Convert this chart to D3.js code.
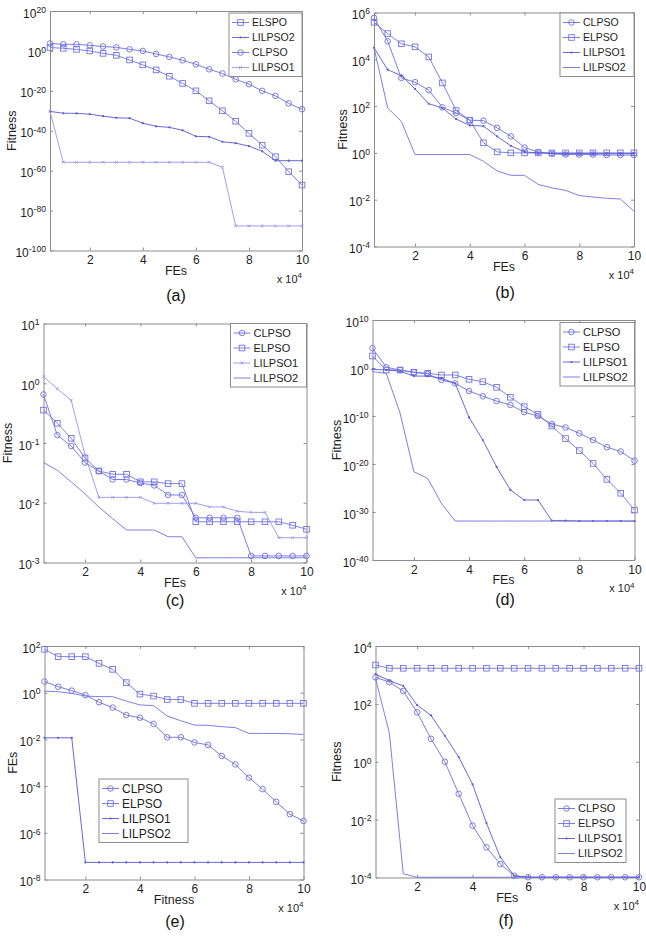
<!DOCTYPE html>
<html><head><meta charset="utf-8">
<script src="https://cdn.jsdelivr.net/npm/d3@7"></script>
<style>
body{margin:0;background:#fff;}
svg text{font-family:"Liberation Sans",Arial,Helvetica,sans-serif;}
</style></head><body>
<svg id="chart" width="646" height="939"></svg>
<script>
// ---------------- DATA ----------------
const fes = [5000,10000,15000,20000,25000,30000,35000,40000,45000,50000,55000,60000,65000,70000,75000,80000,85000,90000,95000,100000];
const xTicks = [20000,40000,60000,80000,100000];

// (a)
const aYTicks = [1e-100,1e-80,1e-60,1e-40,1e-20,1,1e20];
const aELSPO   = [50,20,6,1,6e-2,6e-3,3e-5,1e-7,3e-10,2e-13,5e-17,1e-20,1e-25,1e-30,6e-36,5e-42,6e-48,1e-53,3e-61,6e-68];
const aLILPSO2 = [5e-31,6e-32,5e-32,2e-32,2e-33,3e-34,2e-34,6e-37,1.6e-38,5e-39,1.6e-40,1.6e-43,1e-43,3e-46,6e-47,2e-48,5e-51,1e-55,1e-55,1e-55];
const aCLPSO   = [5e3,2e3,2e3,6e2,1.6e2,6e1,6,1,3e-2,1e-3,2e-5,2e-7,6e-10,5e-12,6e-15,2e-17,1e-20,3e-23,5e-27,6e-30];
const aLILPSO1 = [5e-31,1.6e-56,1.6e-56,1.6e-56,1.6e-56,1.6e-56,1.6e-56,1.6e-56,1.6e-56,1.6e-56,1.6e-56,1.6e-56,1.6e-56,5e-59,2e-88,2e-88,2e-88,2e-88,2e-88,2e-88];

// (b)
const bYTicks = [1e-4,1e-2,1,1e2,1e4,1e6];
const bCLPSO   = [5.9e5,5.9e4,1.6e3,1.05e3,4.8e2,89,51,25,24,11.7,5.1,1.7,1.1,0.91,0.85,0.85,0.85,0.81,0.81,0.81];
const bELPSO   = [3.8e5,1.26e5,4.6e4,3.4e4,1.26e4,980,65,25,2.7,1.1,1,1,1,1,1,1,1,1,1,1];
const bLILPSO1 = [3.1e4,3.6e3,2e3,540,126,83,28,15,14,5.1,2.0,1.1,1.0,0.95,0.93,0.93,0.93,0.93,0.93,0.93];
const bLILPSO2 = [3.1e4,83,22,0.85,0.85,0.85,0.85,0.85,0.44,0.17,0.11,0.11,0.045,0.032,0.025,0.015,0.013,0.0115,0.0107,0.0032];

// (c)
const cYTicks = [1e-3,1e-2,1e-1,1,1e1];
const cCLPSO   = [0.65,0.135,0.089,0.047,0.034,0.0245,0.0245,0.0214,0.0195,0.0135,0.0135,0.0056,0.0056,0.0056,0.0056,0.00129,0.00129,0.00129,0.00129,0.00129];
const cELPSO   = [0.355,0.214,0.12,0.056,0.034,0.030,0.030,0.0224,0.0224,0.0209,0.0209,0.0048,0.0048,0.0048,0.0048,0.0048,0.0048,0.0048,0.0042,0.0036];
const cLILPSO1 = [1.29,0.81,0.52,0.063,0.0123,0.0123,0.0123,0.0123,0.0098,0.0098,0.0098,0.0098,0.0085,0.0085,0.0072,0.0069,0.0069,0.0026,0.0026,0.0026];
const cLILPSO2 = [0.047,0.035,0.0224,0.0141,0.0085,0.0054,0.0035,0.0035,0.0035,0.0027,0.0027,0.0012,0.0012,0.0012,0.0012,0.0012,0.0012,0.0012,0.0012,0.0012];

// (d)
const dYTicks = [1e-40,1e-30,1e-20,1e-10,1,1e10];
const dCLPSO   = [1.3e4,1.4,0.38,0.13,0.056,3.2e-3,6.3e-4,1.6e-5,1.3e-6,1.3e-7,2e-8,6.3e-10,1e-10,2e-12,4e-13,2.5e-14,1e-15,3.2e-17,4e-18,5e-20];
const dELPSO   = [316,0.38,0.38,0.13,0.08,0.035,0.035,4.4e-3,1.4e-3,9.3e-5,8e-7,8.7e-9,2.2e-10,8e-13,2e-15,6.3e-18,1.3e-20,6.3e-24,8e-27,2.5e-30];
const dLILPSO1 = [0.52,0.38,0.23,0.021,0.021,7e-3,6.3e-4,5e-11,1e-15,2.5e-21,4e-26,3.2e-28,3.2e-28,1.6e-32,1.6e-32,1.3e-32,1.3e-32,1.3e-32,1.3e-32,1.3e-32];
const dLILPSO2 = [0.17,0.08,4e-10,2.5e-22,1e-23,6.3e-29,1.3e-32,1.3e-32,1.3e-32,1.3e-32,1.3e-32,1.3e-32,1.3e-32,1.3e-32,1.3e-32,1.3e-32,1.3e-32,1.3e-32,1.3e-32,1.3e-32];

// (e)
const eYTicks = [1e-8,1e-6,1e-4,1e-2,1,1e2];
const eCLPSO   = [3.0,1.8,1.23,0.79,0.39,0.23,0.11,0.085,0.046,0.0123,0.0123,0.0074,0.0058,1.95e-3,8.5e-4,2.3e-4,7.4e-5,2.1e-5,6.3e-6,3.2e-6];
const eELPSO   = [72,35,35,35,18,10,2.7,0.87,0.72,0.51,0.51,0.35,0.35,0.35,0.35,0.35,0.35,0.35,0.35,0.35];
const eLILPSO1 = [0.0117,0.0117,0.0117,5.4e-8,5.4e-8,5.4e-8,5.4e-8,5.4e-8,5.4e-8,5.4e-8,5.4e-8,5.4e-8,5.4e-8,5.4e-8,5.4e-8,5.4e-8,5.4e-8,5.4e-8,5.4e-8,5.4e-8];
const eLILPSO2 = [1.17,1.1,0.93,0.72,0.68,0.68,0.44,0.3,0.28,0.1,0.063,0.041,0.04,0.035,0.032,0.018,0.018,0.018,0.0174,0.0162];

// (f)
const fYTicks = [1e-4,1e-2,1,1e2,1e4];
const fCLPSO   = [830,560,280,51,6.2,1.0,0.078,6.2e-3,1.1e-3,2.9e-4,1.15e-4,1.02e-4,1.02e-4,1.02e-4,1.02e-4,1.02e-4,1.02e-4,1.02e-4,1.02e-4,1.02e-4];
const fELPSO   = [2200,1700,1700,1700,1700,1700,1700,1700,1700,1700,1700,1700,1700,1700,1700,1700,1700,1700,1700,1700];
const fLILPSO1 = [1070,630,420,91,40,7.9,1.45,0.166,7.6e-3,5e-4,1.15e-4,1.02e-4,1.02e-4,1.02e-4,1.02e-4,1.02e-4,1.02e-4,1.02e-4,1.02e-4,1.02e-4];
const fLILPSO2 = [760,9.8,1.35e-4,1.02e-4,1.02e-4,1.02e-4,1.02e-4,1.02e-4,1.02e-4,1.02e-4,1.02e-4,1.02e-4,1.02e-4,1.02e-4,1.02e-4,1.02e-4,1.02e-4,1.02e-4,1.02e-4,1.02e-4];

// ---------------- LAYOUT / STYLE ----------------
const AXIS_COLOR = "#8c8c8c";
const TEXT_COLOR = "#1e1e1e";
const STYLE = {
  circle: {color:"#6e6ede"},
  square: {color:"#7272e0"},
  dot:    {color:"#5858d2"},
  x:      {color:"#9494ea"},
  none:   {color:"#7070dc"}
};

const panels = [
  {cap:"(a)", box:{l:50,r:302,t:11,b:250.5}, yDomain:[1e-100,1e20], yTicks:aYTicks,
   ylabel:"Fitness", xlabel:"FEs", ylabelX:12, capX:176, capY:301,
   legend:{x:229,y:13,w:73,fs:10.5},
   series:[{name:"ELSPO",data:aELSPO,m:"square"},{name:"LILPSO2",data:aLILPSO2,m:"dot"},
           {name:"CLPSO",data:aCLPSO,m:"circle"},{name:"LILPSO1",data:aLILPSO1,m:"x"}]},
  {cap:"(b)", box:{l:374,r:634,t:12.5,b:246.5}, yDomain:[1e-4,1e6], yTicks:bYTicks,
   ylabel:"Fitness", xlabel:"FEs", ylabelX:343, capX:505, capY:298,
   legend:{x:560,y:13,w:74,fs:10.5},
   series:[{name:"CLPSO",data:bCLPSO,m:"circle"},{name:"ELPSO",data:bELPSO,m:"square"},
           {name:"LILPSO1",data:bLILPSO1,m:"dot"},{name:"LILPSO2",data:bLILPSO2,m:"none"}]},
  {cap:"(c)", box:{l:43.5,r:306.5,t:323.5,b:562.5}, yDomain:[1e-3,1e1], yTicks:cYTicks,
   ylabel:"Fitness", xlabel:"FEs", ylabelX:8, capX:175, capY:606,
   legend:{x:230.5,y:323.5,w:76,fs:11},
   series:[{name:"CLPSO",data:cCLPSO,m:"circle"},{name:"ELPSO",data:cELPSO,m:"square"},
           {name:"LILPSO1",data:cLILPSO1,m:"x"},{name:"LILPSO2",data:cLILPSO2,m:"none"}]},
  {cap:"(d)", box:{l:372.5,r:634.5,t:320,b:560}, yDomain:[1e-40,1e10], yTicks:dYTicks,
   ylabel:"Fitness", xlabel:"FEs", ylabelX:337, capX:505, capY:605,
   legend:{x:560,y:322.5,w:74.5,fs:11},
   series:[{name:"CLPSO",data:dCLPSO,m:"circle"},{name:"ELPSO",data:dELPSO,m:"square"},
           {name:"LILPSO1",data:dLILPSO1,m:"dot"},{name:"LILPSO2",data:dLILPSO2,m:"none"}]},
  {cap:"(e)", box:{l:44.5,r:303.5,t:646,b:879.5}, yDomain:[1e-8,1e2], yTicks:eYTicks,
   ylabel:"FEs", xlabel:"Fitness", ylabelX:13, capX:175, capY:927,
   legend:{x:99,y:779,w:89,fs:12},
   series:[{name:"CLPSO",data:eCLPSO,m:"circle"},{name:"ELPSO",data:eELPSO,m:"square"},
           {name:"LILPSO1",data:eLILPSO1,m:"dot"},{name:"LILPSO2",data:eLILPSO2,m:"none"}]},
  {cap:"(f)", box:{l:375.5,r:639,t:646,b:877.5}, yDomain:[1e-4,1e4], yTicks:fYTicks,
   ylabel:"Fitness", xlabel:"FEs", ylabelX:337, capX:506, capY:926,
   legend:{x:555,y:799,w:71,fs:11},
   series:[{name:"CLPSO",data:fCLPSO,m:"circle"},{name:"ELPSO",data:fELPSO,m:"square"},
           {name:"LILPSO1",data:fLILPSO1,m:"dot"},{name:"LILPSO2",data:fLILPSO2,m:"none"}]}
];

const svg = d3.select("#chart");

function drawMarker(g, type, cx, cy) {
  const c = STYLE[type].color;
  if (type === "circle") {
    g.append("circle").attr("cx",cx).attr("cy",cy).attr("r",2.8)
      .attr("fill","none").attr("stroke",c).attr("stroke-width",0.9);
  } else if (type === "square") {
    g.append("rect").attr("x",cx-2.8).attr("y",cy-2.8).attr("width",5.6).attr("height",5.6)
      .attr("fill","none").attr("stroke",c).attr("stroke-width",0.9);
  } else if (type === "dot") {
    g.append("circle").attr("cx",cx).attr("cy",cy).attr("r",1.1).attr("fill",c);
  } else if (type === "x") {
    const s = 1.4;
    g.append("path").attr("d",`M${cx-s},${cy-s}L${cx+s},${cy+s}M${cx-s},${cy+s}L${cx+s},${cy-s}`)
      .attr("stroke",c).attr("stroke-width",0.8);
  }
}

function supLabel(sel, fs) {
  sel.each(function(d) {
    const t = d3.select(this);
    const ex = Math.round(Math.log10(d));
    t.text(null);
    t.append("tspan").text("10");
    t.append("tspan").attr("dy","-0.55em").attr("font-size",(fs*0.72)+"px").text(String(ex));
  });
}

function styleAxis(g) {
  g.select(".domain").attr("stroke",AXIS_COLOR).attr("stroke-width",1);
  g.selectAll(".tick line").attr("stroke",AXIS_COLOR).attr("stroke-width",1);
  g.selectAll("text").attr("fill",TEXT_COLOR).attr("font-size","12px")
    .attr("font-family",'"Liberation Sans",Arial,sans-serif');
  g.attr("font-family",null).attr("font-size",null);
}

function drawPanel(p) {
  const g = svg.append("g");
  const B = p.box;
  const x = d3.scaleLinear().domain([fes[0], fes[fes.length-1]]).range([B.l, B.r]);
  const y = d3.scaleLog().domain(p.yDomain).range([B.b, B.t]);
  const TK = 3;

  const clipId = "clip" + p.cap.replace(/[()]/g,"");
  svg.append("clipPath").attr("id",clipId).append("rect")
    .attr("x",B.l-4).attr("y",B.t-4).attr("width",B.r-B.l+8).attr("height",B.b-B.t+8);

  const gb = g.append("g").attr("transform",`translate(0,${B.b})`)
    .call(d3.axisBottom(x).tickValues(xTicks).tickSizeInner(-TK).tickSizeOuter(0).tickPadding(5)
      .tickFormat(d => d3.format("d")(d/1e4)));
  styleAxis(gb);
  const gt = g.append("g").attr("transform",`translate(0,${B.t})`)
    .call(d3.axisTop(x).tickValues(xTicks).tickSizeInner(-TK).tickSizeOuter(0).tickFormat(""));
  styleAxis(gt);
  const gl = g.append("g").attr("transform",`translate(${B.l},0)`)
    .call(d3.axisLeft(y).tickValues(p.yTicks).tickSizeInner(-TK).tickSizeOuter(0).tickPadding(4)
      .tickFormat(d => String(d)));
  styleAxis(gl);
  gl.selectAll(".tick text").attr("dy","0.5em").call(supLabel, 12);
  const gr = g.append("g").attr("transform",`translate(${B.r},0)`)
    .call(d3.axisRight(y).tickValues(p.yTicks).tickSizeInner(-TK).tickSizeOuter(0).tickFormat(""));
  styleAxis(gr);

  g.append("text").attr("x",(B.l+B.r)/2).attr("y",B.b+24).attr("text-anchor","middle")
    .attr("font-size","12.5px").attr("fill",TEXT_COLOR).text(p.xlabel);
  g.append("text").attr("transform",`translate(${p.ylabelX},${(B.t+B.b)/2}) rotate(-90)`)
    .attr("text-anchor","middle").attr("dy","0.35em")
    .attr("font-size","12.5px").attr("fill",TEXT_COLOR).text(p.ylabel);
  const xe = g.append("text").attr("x",B.r).attr("y",B.b+32).attr("text-anchor","end")
    .attr("font-size","11px").attr("fill",TEXT_COLOR);
  xe.append("tspan").text("x 10");
  xe.append("tspan").attr("dy","-0.55em").attr("font-size","8px").text("4");

  g.append("text").attr("x",p.capX).attr("y",p.capY).attr("text-anchor","middle")
    .attr("font-family",'"Liberation Serif","Times New Roman",serif')
    .attr("font-size","16px").attr("fill","#111").text(p.cap);

  const line = d3.line().x((d,i) => x(fes[i])).y(d => y(d));
  const dg = g.append("g").attr("clip-path",`url(#${clipId})`);
  p.series.forEach(s => {
    const col = STYLE[s.m].color;
    dg.append("path").datum(s.data).attr("d",line).attr("fill","none")
      .attr("stroke",col).attr("stroke-width",0.9);
    const mg = dg.append("g");
    if (s.m !== "none") s.data.forEach((v,i) => drawMarker(mg, s.m, x(fes[i]), y(v)));
  });

  const L = p.legend;
  const rowH = 15, top = 9.5;
  const lg = g.append("g").attr("transform",`translate(${L.x},${L.y})`);
  lg.append("rect").attr("width",L.w).attr("height",top*2 + rowH*3 - 0.5)
    .attr("fill","#fff").attr("stroke",AXIS_COLOR).attr("stroke-width",1);
  p.series.forEach((s,i) => {
    const yy = top + i*rowH;
    const col = STYLE[s.m].color;
    lg.append("line").attr("x1",3).attr("x2",20).attr("y1",yy).attr("y2",yy)
      .attr("stroke",col).attr("stroke-width",0.9);
    if (s.m !== "none") drawMarker(lg, s.m, 11.5, yy);
    lg.append("text").attr("x",23).attr("y",yy).attr("dy","0.36em")
      .attr("font-size",L.fs+"px").attr("fill",TEXT_COLOR).text(s.name);
  });
}

panels.forEach(drawPanel);
</script>
</body></html>
